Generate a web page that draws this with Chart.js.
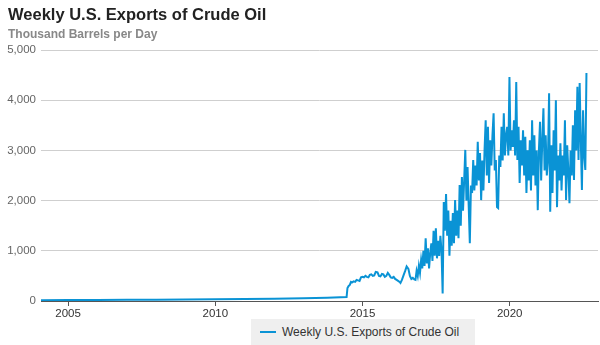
<!DOCTYPE html>
<html>
<head>
<meta charset="utf-8">
<script src="https://cdn.jsdelivr.net/npm/chart.js@4"></script>
<style>
  body { margin: 0; background: #fff; font-family: "Liberation Sans", Arial, sans-serif; }
  #wrap { position: relative; width: 600px; height: 345px; overflow: hidden; }
  #chartExports { position: absolute; left: 0; top: 0; }
  .title { position: absolute; left: 8px; top: 5px; font-size: 16.5px; font-weight: bold; color: #222; }
  .subtitle { position: absolute; left: 8px; top: 27px; font-size: 12px; font-weight: bold; color: #888; }
  .legend { position: absolute; left: 251px; top: 319px; width: 224px; height: 30px; background: #efefef;
            font-size: 12px; color: #333; }
  .legend .swatch { position: absolute; left: 9px; top: 12px; width: 16px; height: 2px; background: #0a93d5; }
  .legend .label { position: absolute; left: 31px; top: 6px; white-space: nowrap; }
</style>
</head>
<body>
<div id="wrap">
  <canvas id="chartExports" width="600" height="345"></canvas>
  <div class="title">Weekly U.S. Exports of Crude Oil</div>
  <div class="subtitle">Thousand Barrels per Day</div>
  <div class="legend"><span class="swatch"></span><span class="label">Weekly U.S. Exports of Crude Oil</span></div>
</div>
<script>
// years on the x axis that carry a label
const tickYears = [2005, 2010, 2015, 2020];
const yTicks = [0, 1000, 2000, 3000, 4000, 5000];

// early, slow part of the series (decimal year, thousand barrels per day)
const earlyYears = [2004.08, 2005, 2006, 2007, 2008, 2009, 2010, 2011, 2012, 2013, 2013.8, 2014.46,
  2014.49, 2014.53, 2014.57, 2014.61, 2014.65, 2014.70, 2014.75, 2014.80, 2014.85, 2014.90, 2014.95,
  2015.00, 2015.05, 2015.10, 2015.15, 2015.20, 2015.25, 2015.30, 2015.35, 2015.40, 2015.45, 2015.51,
  2015.56, 2015.61, 2015.66, 2015.71, 2015.76, 2015.81, 2015.86, 2015.91, 2015.96, 2016.01, 2016.06,
  2016.11, 2016.16, 2016.21, 2016.26, 2016.29, 2016.34, 2016.40, 2016.45, 2016.50, 2016.56, 2016.61,
  2016.66, 2016.71, 2016.76];
const earlyValues = [15, 18, 22, 25, 25, 30, 35, 40, 45, 55, 65, 80,
  260, 300, 320, 380, 370, 390, 380, 420, 410, 400, 470,
  480, 470, 500, 480, 470, 520, 530, 500, 510, 580, 570,
  500, 490, 540, 530, 480, 500, 560, 520, 470, 460, 480,
  440, 420, 400, 380, 360, 420, 520, 600, 690, 640, 500,
  440, 460, 430];

// from late 2016 on: one reading every two weeks
const sampleStart = 2016.8;
const samplesPerYear = 26;
const sampleValues = [
  420, 600, 500, 700, 560, 820, 650, 1000, 700, 1250,
  750, 1050, 650, 950, 1150, 800, 1400, 900, 1450, 850,
  1200, 900, 1300, 1000, 150, 1970, 1400, 2130, 1300, 1800,
  900, 1600, 1100, 1750, 1150, 2010, 1300, 1800, 1250, 2310,
  1500, 2470, 1800, 2400, 3010, 2000, 2670, 1900, 1150, 2300,
  2150, 2810, 2200, 2700, 2300, 3170, 2400, 2950, 2010, 2800,
  2200, 3000, 3600, 2500, 3470, 2350, 3200, 2700, 3300, 3740,
  2600, 2810, 1870, 1850, 2900, 2670, 3470, 2800, 3740, 2900,
  3300, 3470, 2900, 4460, 3000, 3400, 3070, 3600, 2900, 4360,
  2810, 3470, 2350, 3200, 2700, 3400, 2500, 3270, 2150, 3000,
  2400, 3200, 2200, 3600, 2500, 3300, 2300, 3000, 1810, 3000,
  3570, 2400, 3200, 3840, 2600, 3300, 2500, 2810, 4140, 1780,
  3100, 2150, 3400, 2600, 4000, 1870, 2900, 2400, 3140, 2200,
  2900, 2500, 3600, 2010, 3100, 2600, 1950, 3000, 2500, 3500,
  2410, 3800, 3000, 4270, 2810, 4340, 3200, 2210, 3800, 2900,
  2610, 4540
];

const points = earlyYears.map((yr, i) => ({ x: yr, y: earlyValues[i] }));
sampleValues.forEach((v, i) => {
  points.push({ x: sampleStart + i / samplesPerYear, y: v });
});

const lineBlue = '#0a93d5';

const configExports = {
  type: 'line',
  data: {
    datasets: [{
      label: 'Weekly U.S. Exports of Crude Oil',
      data: points,
      borderColor: lineBlue,
      borderWidth: 2,
      pointRadius: 0,
      tension: 0,
      fill: false,
    }],
  },
  options: {
    responsive: false,
    animation: false,
    devicePixelRatio: 1,
    layout: { padding: { top: 50, right: 2, bottom: 0, left: 0 } },
    plugins: {
      legend: { display: false },
      tooltip: { enabled: false },
    },
    scales: {
      x: {
        type: 'linear',
        min: 2004.08,
        max: 2023.0,
        afterBuildTicks: (scale) => { scale.ticks = tickYears.map(v => ({ value: v })); },
        afterFit: (scale) => { scale.height = 44; },
        grid: { drawOnChartArea: false, drawTicks: true, tickLength: 5, tickColor: '#555' },
        border: { display: true, color: '#555', width: 1 },
        ticks: {
          color: '#333',
          font: { family: 'Liberation Sans', size: 11.5 },
          padding: 1,
          maxRotation: 0,
          callback: (v) => String(v),
        },
      },
      y: {
        min: 0,
        max: 5000,
        afterBuildTicks: (scale) => { scale.ticks = yTicks.map(v => ({ value: v })); },
        afterFit: (scale) => { scale.width = 41; },
        grid: { color: '#cfcfcf', drawTicks: false },
        border: { display: false },
        ticks: {
          color: '#666',
          font: { family: 'Liberation Sans', size: 11.5 },
          padding: 5,
          callback: (v) => v.toLocaleString('en-US'),
        },
      },
    },
  },
};

var chartExports = new Chart(document.getElementById('chartExports'), configExports);
</script>
</body>
</html>
